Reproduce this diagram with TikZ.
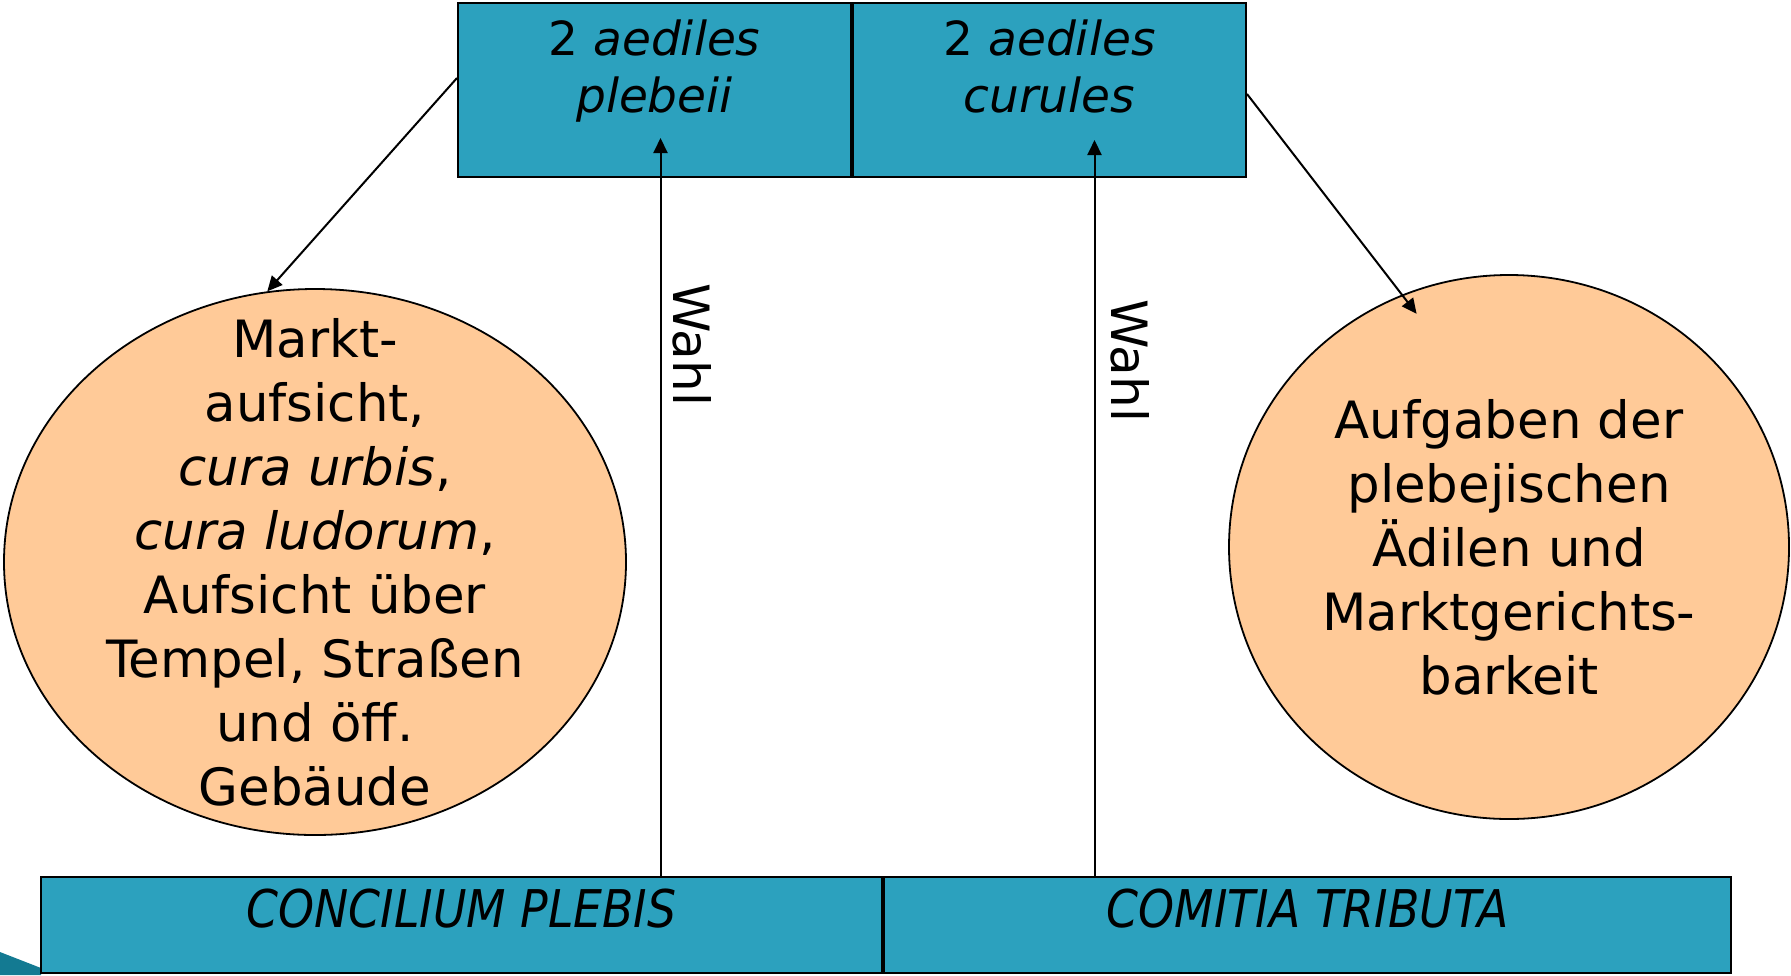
\documentclass[tikz,border=0pt]{standalone}
\usepackage{fontspec}
\setmainfont{DejaVu Sans}
\usetikzlibrary{shapes.geometric, arrows.meta, positioning}
\definecolor{aedteal}{HTML}{2CA1BE}
\definecolor{aedpeach}{HTML}{FFCA98}
\definecolor{aeddeep}{HTML}{137A92}
\tikzstyle{office} = [rectangle, draw=black, line width=1pt, fill=aedteal, align=center, inner sep=0pt, font=\fontsize{23.5}{28.5}\selectfont]
\tikzstyle{assembly} = [rectangle, draw=black, line width=1pt, fill=aedteal, align=center, inner sep=0pt, minimum height=48pt, text depth=17pt, font=\fontsize{26}{30}\selectfont\itshape]
\tikzstyle{duty} = [ellipse, draw=black, line width=0.9pt, fill=aedpeach, align=center, inner sep=-40pt, font=\fontsize{25.7}{32}\selectfont]
\tikzstyle{arrow} = [line width=1pt, -{Triangle[length=7.5pt,width=7pt]}]

\begin{document}
\begin{tikzpicture}[x=0.5pt, y=-0.5pt]
\useasboundingbox (0,0) rectangle (1791,975);
\fill[aeddeep] (0,952) -- (41,968) -- (41,975) -- (0,975) -- cycle;

\node (plebeii) [office, minimum width=196.5pt, minimum height=87pt, text depth=24pt] at (654.5,90) {2 \textit{aediles}\\\textit{plebeii}};
\node (curules) [office, minimum width=196.5pt, minimum height=87pt, text depth=24pt, right=0pt of plebeii] {2 \textit{aediles}\\\textit{curules}};
\node (concilium) [assembly, minimum width=420.5pt] at (461.5,925) {\scalebox{0.88}[1]{CONCILIUM PLEBIS}};
\node (comitia) [assembly, minimum width=423.5pt, right=0pt of concilium] {\scalebox{0.88}[1]{COMITIA TRIBUTA}};
\node (markt) [duty, minimum width=311pt, minimum height=273pt] at (315,562) {Markt-\\aufsicht,\\\textit{cura urbis},\\\textit{cura ludorum},\\Aufsicht über\\Tempel, Straßen\\und öff.\\Gebäude};
\node (aufgaben) [duty, minimum width=280pt, minimum height=272pt] at (1509,547) {Aufgaben der\\plebejischen\\Ädilen und\\Marktgerichts-\\barkeit};

\draw [arrow] ([yshift=6pt]plebeii.west) -- (markt.100);
\draw [arrow, shorten >=-12pt] ([yshift=-2pt]curules.east) -- (aufgaben.113);
\draw [arrow] ([xshift=3pt]plebeii.center |- concilium.north) -- node[pos=0.72, xshift=16pt, rotate=-90, font=\fontsize{25}{28}\selectfont]{Wahl} ([xshift=3pt, yshift=20pt]plebeii.south);
\draw [arrow] ([xshift=22.5pt]curules.center |- concilium.north) -- node[pos=0.70, xshift=18pt, rotate=-90, font=\fontsize{25}{28}\selectfont]{Wahl} ([xshift=22.5pt, yshift=19pt]curules.south);
\end{tikzpicture}
\end{document}
